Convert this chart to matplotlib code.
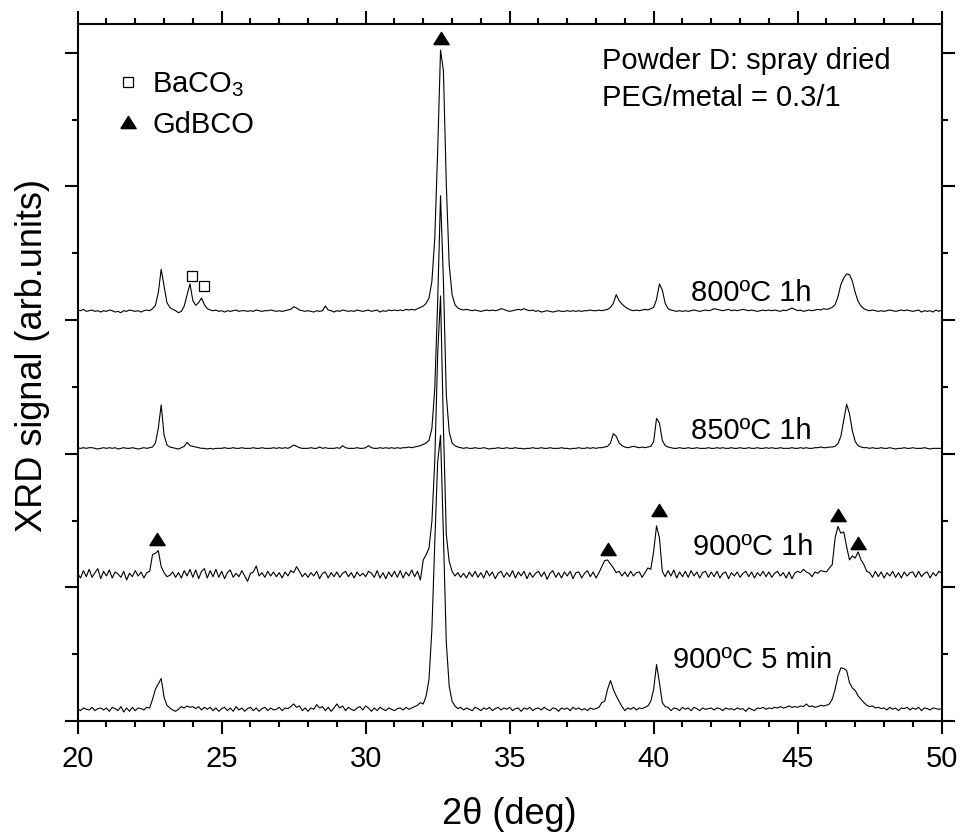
import numpy as np
import matplotlib
matplotlib.use("Agg")
import matplotlib.pyplot as plt
from matplotlib.lines import Line2D
from matplotlib.ticker import MultipleLocator

plt.rcParams['font.family'] = ['Liberation Sans', 'DejaVu Sans']
plt.rcParams['mathtext.fontset'] = 'custom'
plt.rcParams['mathtext.rm'] = 'Liberation Sans'
plt.rcParams['mathtext.default'] = 'regular'

# 2theta grid, one reading every 0.1 deg
two_theta = np.round(np.arange(20.0, 50.01, 0.1), 1)

# intensity above each pattern's own baseline (arb. units)
i_800_1h = [
    0.02, 0.01, 0.03, 0.00, 0.01, 0.02, 0.00, 0.01, -0.01, 0.01,
    0.00, 0.02, 0.01, -0.01, 0.00, -0.02, 0.01, 0.00, 0.02, 0.01,
    0.00, 0.01, -0.01, 0.01, 0.02, 0.01, 0.04, 0.09, 0.28, 0.63,
    0.38, 0.13, 0.06, 0.03, 0.01, -0.02, 0.00, 0.08, 0.25, 0.41,
    0.16, 0.09, 0.13, 0.20, 0.10, 0.04, 0.02, 0.01, 0.02, 0.00,
    0.01, -0.01, 0.01, 0.00, 0.01, 0.02, 0.00, 0.01, 0.01, 0.00,
    0.01, 0.00, 0.02, 0.01, 0.00, 0.01, 0.01, 0.02, 0.01, 0.00,
    0.01, 0.00, 0.01, 0.02, 0.03, 0.07, 0.05, 0.02, 0.01, 0.00,
    0.01, 0.00, -0.01, 0.01, 0.00, 0.01, 0.08, 0.02, 0.01, -0.01,
    0.01, 0.00, 0.02, 0.01, 0.00, 0.01, 0.00, 0.02, 0.01, 0.00,
    0.01, 0.02, 0.00, 0.01, 0.02, -0.01, 0.01, 0.00, 0.02, 0.01,
    0.02, 0.01, 0.02, 0.01, 0.03, 0.02, 0.03, 0.02, 0.04, 0.06,
    0.08, 0.12, 0.20, 0.45, 1.10, 2.40, 3.91, 3.60, 1.90, 0.70,
    0.25, 0.10, 0.05, 0.03, 0.02, 0.03, 0.02, 0.01, 0.02, 0.01,
    0.00, 0.01, 0.02, 0.01, 0.02, 0.01, 0.02, 0.04, 0.03, 0.01,
    0.00, 0.01, 0.02, 0.03, 0.02, 0.04, 0.02, 0.01, 0.02, 0.00,
    0.01, -0.01, 0.00, 0.01, 0.00, -0.01, 0.00, 0.01, 0.00, 0.00,
    0.01, 0.00, 0.01, 0.00, 0.01, 0.00, 0.01, 0.01, 0.02, 0.01,
    0.01, 0.02, 0.01, 0.02, 0.03, 0.06, 0.12, 0.25, 0.16, 0.11,
    0.07, 0.04, 0.02, 0.01, 0.02, 0.01, 0.02, 0.03, 0.02, 0.04,
    0.06, 0.18, 0.41, 0.32, 0.12, 0.04, 0.02, 0.01, 0.00, 0.01,
    0.00, 0.01, 0.00, 0.01, 0.02, 0.01, 0.00, 0.01, 0.02, 0.01,
    0.02, 0.04, 0.03, 0.02, 0.01, 0.02, 0.03, 0.01, 0.02, 0.01,
    0.02, 0.03, 0.02, 0.01, 0.02, 0.01, 0.00, 0.01, 0.02, 0.01,
    0.02, 0.01, 0.02, 0.01, 0.00, 0.02, 0.01, 0.03, 0.05, 0.03,
    0.01, 0.02, 0.00, 0.01, 0.02, 0.01, 0.02, 0.03, 0.02, 0.04,
    0.03, 0.04, 0.06, 0.10, 0.22, 0.40, 0.50, 0.56, 0.55, 0.45,
    0.28, 0.15, 0.08, 0.04, 0.02, 0.01, 0.02, 0.01, 0.00, 0.01,
    0.00, 0.01, 0.02, 0.01, 0.00, 0.01, 0.02, 0.01, 0.02, 0.01,
    0.00, 0.01, 0.02, -0.01, 0.01, 0.00, 0.01, -0.01, 0.02, 0.00,
    0.02]

i_850_1h = [
    0.01, 0.00, 0.01, 0.00, 0.01, 0.01, 0.00, -0.01, 0.00, 0.01,
    0.00, 0.01, 0.00, 0.01, -0.01, 0.00, 0.01, 0.00, 0.00, 0.01,
    0.00, -0.01, 0.00, 0.01, 0.00, 0.01, 0.02, 0.08, 0.30, 0.65,
    0.20, 0.05, 0.02, 0.01, 0.00, -0.01, 0.01, 0.03, 0.09, 0.04,
    0.03, 0.02, 0.01, 0.00, 0.00, -0.01, 0.00, -0.01, 0.00, 0.00,
    0.00, 0.01, 0.00, 0.00, 0.01, 0.00, 0.00, 0.01, 0.00, 0.00,
    0.00, 0.01, 0.00, 0.00, 0.01, 0.00, 0.00, 0.00, 0.01, 0.00,
    0.01, 0.00, 0.01, 0.00, 0.02, 0.05, 0.03, 0.01, 0.00, 0.00,
    0.00, 0.01, 0.00, 0.00, 0.02, 0.00, 0.01, 0.00, 0.00, 0.00,
    0.01, 0.00, 0.04, 0.01, 0.00, 0.00, 0.00, 0.01, 0.00, 0.00,
    0.01, 0.04, 0.01, 0.00, 0.00, 0.01, 0.00, 0.01, 0.00, 0.01,
    0.00, 0.01, 0.00, 0.01, 0.01, 0.02, 0.01, 0.02, 0.03, 0.04,
    0.06, 0.08, 0.12, 0.30, 0.90, 2.20, 3.78, 2.50, 0.80, 0.25,
    0.08, 0.04, 0.02, 0.01, 0.00, 0.01, 0.00, 0.00, 0.01, 0.00,
    0.00, 0.01, 0.00, -0.01, 0.00, 0.00, 0.01, 0.00, 0.00, 0.01,
    0.00, 0.00, 0.01, 0.00, 0.00, -0.01, 0.00, 0.00, 0.01, 0.00,
    0.00, 0.01, 0.00, 0.00, 0.01, 0.00, 0.00, 0.00, 0.01, 0.00,
    0.00, -0.01, 0.00, 0.00, 0.01, 0.00, 0.00, 0.01, 0.00, 0.01,
    0.00, 0.01, 0.01, 0.02, 0.03, 0.08, 0.22, 0.18, 0.08, 0.04,
    0.02, 0.01, 0.02, 0.03, 0.02, 0.01, 0.02, 0.01, 0.02, 0.03,
    0.10, 0.45, 0.38, 0.12, 0.04, 0.02, 0.01, 0.00, 0.00, 0.01,
    0.00, 0.00, 0.01, 0.00, 0.00, 0.01, 0.00, 0.00, 0.00, 0.01,
    0.00, 0.00, 0.01, 0.00, 0.01, 0.00, 0.00, 0.01, 0.00, 0.00,
    0.01, 0.00, 0.00, 0.01, 0.00, 0.00, 0.01, 0.00, 0.00, 0.01,
    0.00, 0.01, 0.00, 0.00, 0.01, 0.00, 0.00, 0.00, 0.01, 0.00,
    0.00, 0.01, 0.00, 0.01, 0.00, 0.00, 0.01, 0.01, 0.02, 0.01,
    0.01, 0.02, 0.02, 0.03, 0.07, 0.18, 0.42, 0.66, 0.52, 0.26,
    0.10, 0.04, 0.02, 0.01, 0.01, 0.00, 0.01, 0.00, 0.00, 0.01,
    0.00, 0.00, 0.01, 0.00, -0.01, 0.00, 0.00, 0.01, 0.00, 0.00,
    0.01, 0.00, 0.00, 0.00, 0.01, 0.00, -0.01, 0.00, 0.00, 0.00,
    0.00]

i_900_1h = [
    0.02, -0.05, 0.06, -0.03, 0.08, -0.04, 0.03, 0.09, -0.06, 0.05,
    -0.02, 0.07, -0.05, 0.04, 0.01, -0.04, 0.05, -0.08, 0.02, -0.03,
    0.06, -0.02, 0.04, -0.05, 0.03, 0.05, 0.30, 0.32, 0.36, 0.12,
    0.03, -0.03, -0.01, 0.04, -0.04, 0.03, -0.05, 0.06, -0.02, 0.08,
    -0.04, 0.07, -0.06, 0.05, 0.09, -0.05, 0.06, -0.03, 0.08, -0.04,
    0.05, -0.06, 0.03, 0.07, -0.04, 0.02, -0.03, 0.06, -0.02, -0.10,
    0.02, 0.04, 0.13, -0.02, 0.03, -0.04, 0.05, -0.02, 0.04, -0.03,
    0.03, -0.05, 0.04, -0.02, 0.06, 0.03, 0.12, 0.05, -0.03, 0.02,
    -0.04, 0.03, -0.02, 0.05, -0.06, 0.02, 0.04, -0.05, 0.03, -0.03,
    0.04, -0.04, 0.02, 0.05, -0.03, 0.03, -0.05, 0.04, -0.02, 0.02,
    -0.03, 0.05, 0.02, -0.04, 0.06, -0.05, 0.03, -0.06, 0.04, -0.03,
    0.05, -0.04, 0.06, -0.05, 0.04, -0.02, 0.07, -0.03, 0.05, -0.08,
    0.22, 0.30, 0.40, 0.80, 1.70, 3.30, 4.17, 2.20, 0.60, 0.20,
    0.05, -0.02, 0.03, -0.04, 0.02, -0.05, 0.04, -0.03, 0.05, -0.04,
    0.03, -0.05, 0.06, -0.02, 0.04, -0.06, 0.02, 0.05, -0.04, 0.03,
    -0.03, 0.06, -0.05, 0.04, -0.02, 0.05, -0.06, 0.03, -0.04, 0.02,
    0.05, -0.03, 0.04, -0.07, 0.02, 0.06, -0.04, 0.03, -0.05, 0.04,
    -0.02, 0.05, -0.06, 0.03, 0.04, -0.05, 0.02, 0.06, -0.03, 0.04,
    -0.05, 0.03, 0.12, 0.21, 0.22, 0.16, 0.10, 0.03, 0.05, -0.02,
    0.04, -0.03, 0.05, -0.02, 0.03, 0.04, -0.04, 0.03, 0.10, 0.08,
    0.35, 0.73, 0.55, 0.05, -0.03, 0.06, -0.02, 0.07, -0.05, 0.04,
    -0.03, 0.05, -0.04, 0.06, -0.02, 0.04, -0.05, 0.03, 0.05, -0.04,
    0.04, -0.03, 0.05, -0.05, 0.02, 0.04, -0.06, 0.03, -0.02, 0.04,
    -0.04, 0.02, 0.05, -0.03, 0.04, -0.05, 0.03, -0.02, 0.05, -0.03,
    0.04, -0.04, 0.02, 0.05, -0.02, 0.03, -0.05, 0.04, -0.06, 0.02,
    0.05, 0.03, 0.08, 0.04, 0.02, -0.03, 0.04, 0.02, 0.06, 0.05,
    0.04, 0.10, 0.15, 0.55, 0.72, 0.62, 0.64, 0.42, 0.22, 0.28,
    0.25, 0.34, 0.22, 0.15, 0.05, 0.03, -0.04, 0.05, -0.03, 0.04,
    -0.05, 0.03, -0.02, 0.05, -0.04, 0.03, -0.05, 0.04, -0.02, 0.03,
    0.04, -0.04, 0.05, -0.03, 0.02, 0.04, -0.05, 0.03, -0.02, 0.05,
    0.02]

i_900_5min = [
    0.01, -0.02, 0.02, 0.00, -0.01, 0.03, -0.02, 0.01, 0.02, -0.01,
    0.02, -0.03, 0.03, 0.01, -0.02, 0.04, -0.04, 0.02, -0.03, 0.03,
    -0.02, 0.02, 0.01, -0.01, 0.03, 0.02, 0.15, 0.30, 0.38, 0.46,
    0.18, 0.06, 0.02, -0.01, -0.03, 0.00, 0.04, 0.02, 0.05, 0.03,
    0.04, 0.01, 0.04, -0.01, 0.03, 0.00, 0.03, -0.02, 0.02, -0.03,
    0.01, 0.03, -0.02, 0.02, -0.03, 0.04, -0.01, 0.02, -0.03, 0.01,
    0.03, -0.02, 0.02, -0.03, 0.01, 0.03, -0.02, 0.02, -0.01, 0.00,
    0.03, -0.02, 0.02, 0.01, 0.04, 0.08, 0.03, 0.05, -0.02, 0.02,
    -0.03, 0.02, 0.00, 0.07, 0.02, 0.04, -0.02, 0.03, -0.03, 0.02,
    0.08, 0.02, 0.05, -0.02, 0.03, 0.00, -0.02, 0.02, 0.04, -0.01,
    0.05, 0.02, -0.03, 0.02, -0.02, 0.03, 0.00, -0.02, 0.02, 0.00,
    -0.02, 0.01, 0.02, -0.01, 0.03, 0.00, 0.02, 0.04, 0.06, 0.10,
    0.08, 0.20, 0.45, 1.20, 2.50, 3.70, 4.10, 2.60, 1.00, 0.35,
    0.12, 0.05, 0.01, 0.03, -0.01, 0.02, 0.00, -0.02, 0.03, 0.01,
    -0.02, 0.02, 0.00, 0.03, -0.02, 0.01, 0.03, -0.01, 0.02, 0.00,
    0.03, -0.02, 0.01, 0.02, -0.03, 0.02, 0.00, 0.03, -0.02, 0.01,
    0.02, -0.01, 0.03, 0.00, -0.02, 0.02, 0.01, -0.03, 0.02, 0.00,
    0.02, -0.02, 0.03, 0.00, 0.02, -0.01, 0.01, -0.02, 0.02, 0.00,
    0.01, 0.03, 0.10, 0.12, 0.30, 0.43, 0.30, 0.20, 0.12, 0.04,
    -0.02, 0.02, 0.00, 0.03, -0.01, 0.02, 0.01, 0.03, 0.05, 0.12,
    0.30, 0.67, 0.40, 0.10, 0.04, 0.03, -0.02, 0.02, 0.01, -0.02,
    0.03, 0.00, 0.02, -0.02, 0.03, 0.01, -0.02, 0.02, 0.00, 0.01,
    0.02, -0.01, 0.02, 0.01, -0.02, 0.02, 0.00, 0.01, -0.01, 0.02,
    0.00, 0.01, -0.03, 0.02, 0.00, -0.02, 0.02, 0.01, 0.03, 0.00,
    0.02, 0.01, 0.03, 0.02, 0.04, 0.02, 0.03, 0.05, 0.03, 0.04,
    0.03, 0.05, 0.04, 0.08, 0.04, 0.05, 0.03, 0.04, 0.06, 0.05,
    0.06, 0.08, 0.15, 0.30, 0.50, 0.62, 0.61, 0.58, 0.40, 0.32,
    0.28, 0.20, 0.15, 0.10, 0.06, 0.04, 0.05, 0.02, 0.03, 0.01,
    0.02, -0.01, 0.03, 0.00, 0.02, -0.02, 0.02, 0.01, 0.03, -0.01,
    0.02, 0.00, 0.03, -0.02, 0.02, 0.01, -0.01, 0.02, 0.01, 0.00,
    0.01]

patterns = [i_800_1h, i_850_1h, i_900_1h, i_900_5min]
offsets = [6.13, 4.08, 2.19, 0.175]

labels = ['800ºC 1h', '850ºC 1h', '900ºC 1h', '900ºC 5 min']
label_x = [41.28, 41.28, 41.38, 40.66]
label_y = [6.28, 4.22, 2.49, 0.80]

# phase markers above the peaks
gd_x = [32.62, 22.76, 38.42, 40.18, 46.41, 47.10]
gd_y = [10.22, 2.73, 2.57, 3.16, 3.08, 2.67]
ba_x = [23.96, 24.39]
ba_y = [6.66, 6.51]

tri = [(-1, -0.8), (1, -0.8), (0, 0.8), (-1, -0.8)]

fig = plt.figure(figsize=(9.6, 8.34), dpi=100)
ax = fig.add_axes([0.0809, 0.1355, 0.9, 0.8357])

for y, off in zip(patterns, offsets):
    ax.plot(two_theta, np.array(y) + off, color='black', lw=0.8)

ax.plot(gd_x, gd_y, ls='none', marker=tri, ms=11, color='black')
ax.plot(ba_x, ba_y, ls='none', marker='s', ms=7, mfc='white', mec='black', mew=0.9)

for lab, lx, ly in zip(labels, label_x, label_y):
    ax.text(lx, ly, lab, fontsize=21, ha='left', va='baseline')

ax.text(38.19, 9.76, 'Powder D: spray dried', fontsize=21, ha='left', va='baseline')
ax.text(38.19, 9.21, 'PEG/metal = 0.3/1', fontsize=21, ha='left', va='baseline')

handles = [Line2D([], [], ls='none', marker='s', ms=7, mfc='white', mec='black', mew=0.9),
           Line2D([], [], ls='none', marker=tri, ms=11, color='black')]
ax.legend(handles, ['BaCO$_3$', 'GdBCO'], loc='upper left', bbox_to_anchor=(0.028, 0.951),
          frameon=False, fontsize=21, handlelength=1.0, handletextpad=0.32,
          labelspacing=0.41, borderaxespad=0)

ax.set_xlim(20, 50)
ax.set_ylim(0, 10.43)
ax.set_xticks(range(20, 51, 5))
ax.xaxis.set_minor_locator(MultipleLocator(1))
ax.set_yticks(range(0, 11, 2))
ax.yaxis.set_minor_locator(MultipleLocator(1))
ax.tick_params(which='both', direction='out', top=True, right=True,
               labelleft=False, width=1.5, labelsize=21)
ax.tick_params(which='major', length=9.5, pad=8)
ax.tick_params(which='minor', length=4.5)
for s in ax.spines.values():
    s.set_linewidth(1.5)

ax.set_xlabel('2θ (deg)', fontsize=26, labelpad=17)
ax.set_ylabel('XRD signal (arb.units)', fontsize=26)
ax.yaxis.set_label_coords(-0.032, 0.524)

fig.savefig('out.png', dpi=100)
